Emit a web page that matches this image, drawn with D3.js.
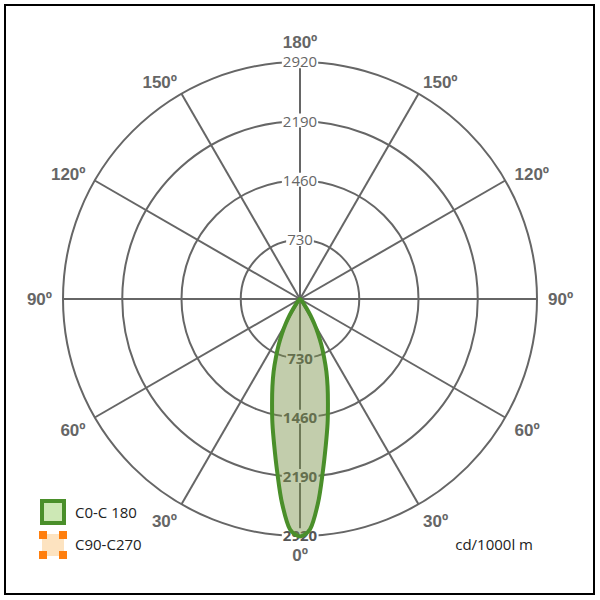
<!DOCTYPE html>
<html>
<head>
<meta charset="utf-8">
<script src="https://cdn.jsdelivr.net/npm/d3@7"></script>
<style>
body{margin:0;background:#fff;}
text{font-family:"Open Sans",sans-serif;}
</style>
</head>
<body>
<svg id="chart" width="600" height="600"></svg>
<script>
// ring values and spoke angles
const ringValues = [730, 1460, 2190, 2920];
const spokeAngles = [0, 30, 60, 90, 120, 150, 180, 210, 240, 270, 300, 330];
const angleLabels = ["0º", "30º", "60º", "90º", "120º", "150º", "180º", "150º", "120º", "90º", "60º", "30º"];
// C0-C180 curve: gamma angle (deg from nadir) and intensity cd/1000lm
const gammaAngles = [0, 1.25, 2.5, 5, 7.5, 10, 12.5, 15, 17.5, 20, 22.5, 25, 27.5, 30, 32.5, 35, 40, 45, 50];
const c0Values = [2925, 2900, 2840, 2530, 2150, 1830, 1570, 1330, 1130, 950, 774, 620, 480, 350, 240, 150, 50, 15, 0];
const seriesNames = ["C0-C 180", "C90-C270"];
const unitLabel = "cd/1000l m";

const svg = d3.select("#chart");
const cx = 300, cy = 299, R = 237;
const gridColor = "#666";

svg.append("rect").attr("x", 5).attr("y", 5).attr("width", 589).attr("height", 589)
  .attr("fill", "none").attr("stroke", "#000").attr("stroke-width", 2);

const r = d3.scaleLinear().domain([0, 2920]).range([0, R]);
const g = svg.append("g").attr("transform", "translate(" + cx + "," + cy + ")");

// angle measured from downward direction (nadir), clockwise on screen
function pt(deg, val) {
  const a = deg * Math.PI / 180;
  return [-Math.sin(a) * r(val), Math.cos(a) * r(val)];
}

g.selectAll("circle.ring").data(ringValues).enter().append("circle")
  .attr("class", "ring").attr("r", d => r(d))
  .attr("fill", "none").attr("stroke", gridColor).attr("stroke-width", 2);

g.selectAll("line.spoke").data(spokeAngles).enter().append("line")
  .attr("x1", 0).attr("y1", 0)
  .attr("x2", d => pt(d, 2920)[0]).attr("y2", d => pt(d, 2920)[1])
  .attr("stroke", gridColor).attr("stroke-width", 2);

// ring labels (top and bottom)
function ringLabel(v, y, bold) {
  const t = g.append("text").attr("x", 0).attr("y", y).attr("dy", "0.35em")
    .attr("text-anchor", "middle").attr("font-size", 15)
    .attr("font-weight", bold ? "bold" : "normal")
    .attr("fill", bold ? "#555" : "#666").text(v);
  const bb = t.node().getBBox();
  g.insert("rect", "text:last-of-type")
    .attr("x", bb.x - 1).attr("y", bb.y + 3).attr("width", bb.width + 2).attr("height", bb.height - 6)
    .attr("fill", "#fff");
}
ringValues.forEach(v => ringLabel(v, -r(v), false));
ringValues.forEach(v => ringLabel(v, r(v), true));

// curve, mirrored around nadir
const right = gammaAngles.map((a, i) => pt(a, c0Values[i]));
const left = gammaAngles.slice(1, -1).map((a, i) => pt(-a, c0Values[i + 1])).reverse();
const all = right.concat(left);
const line = d3.line().curve(d3.curveCatmullRomClosed.alpha(0.5));
g.append("path").attr("d", line(all))
  .attr("fill", "rgba(120,145,70,0.45)").attr("stroke", "#4a8f2a").attr("stroke-width", 4)
  .attr("stroke-linejoin", "round");

// angle labels
spokeAngles.forEach((d, i) => {
  const a = d * Math.PI / 180;
  const dx = -Math.sin(a), dy = Math.cos(a);
  let anchor = "middle", x = dx * 250;
  if (d > 0 && d < 180) { anchor = "end"; x += 2; }
  if (d > 180) { anchor = "start"; x -= 2; }
  let y = dy * 250 + (dy > 0.1 ? 6 : dy < -0.95 ? -7 : 0);
  g.append("text").attr("x", x).attr("y", y).attr("dy", "0.35em")
    .attr("text-anchor", anchor).attr("font-size", 17).attr("font-weight", "bold")
    .style("font-family", "'Liberation Sans', Arial, sans-serif")
    .attr("fill", "#666").text(angleLabels[i]);
});

// legend
svg.append("rect").attr("x", 42).attr("y", 501).attr("width", 22).attr("height", 22)
  .attr("fill", "#cde8b5").attr("stroke", "#4a8f2a").attr("stroke-width", 4);
svg.append("rect").attr("x", 42).attr("y", 534).attr("width", 22).attr("height", 22)
  .attr("fill", "#fde3c0");
[[39, 531], [59, 531], [39, 551], [59, 551]].forEach(c => {
  svg.append("rect").attr("x", c[0]).attr("y", c[1]).attr("width", 8).attr("height", 8).attr("fill", "#ff7f0e");
});
seriesNames.forEach((s, i) => {
  svg.append("text").attr("x", 75).attr("y", 513 + i * 32).attr("dy", "0.35em")
    .attr("font-size", 15).attr("fill", "#222").text(s);
});
svg.append("text").attr("x", 533).attr("y", 545).attr("dy", "0.35em").attr("text-anchor", "end")
  .attr("font-size", 15).attr("fill", "#222").text(unitLabel);
</script>
</body>
</html>
